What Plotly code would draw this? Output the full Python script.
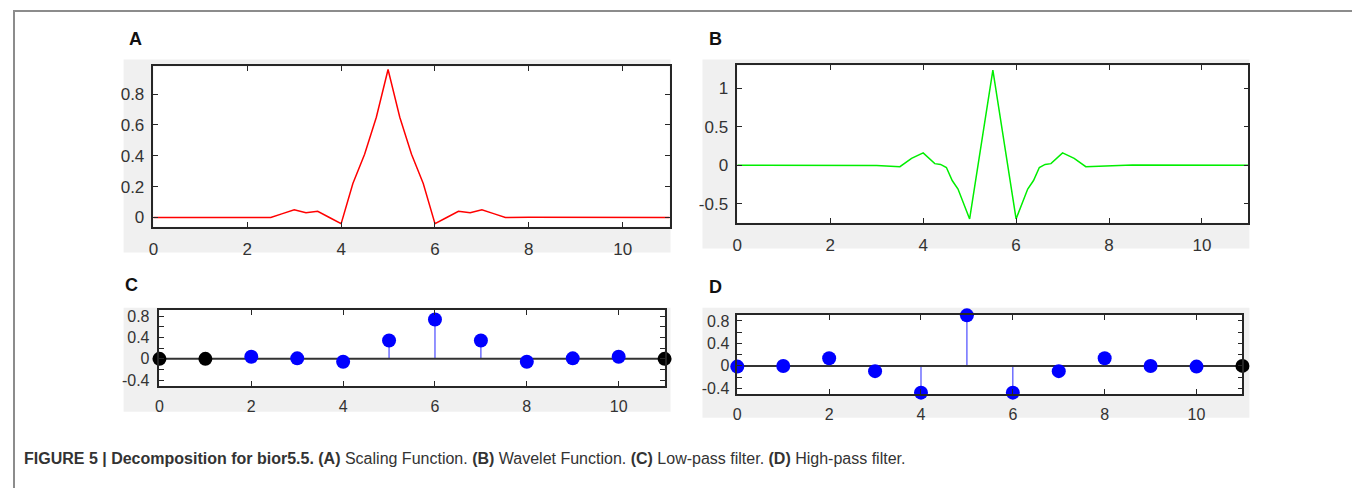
import plotly.graph_objects as go

# The page body has an 8px margin, so the figure is drawn 8px in from the window edge.
OFF = 8
W, H = 1360 - OFF, 488 - OFF

# ---------------- data ----------------
# (A) scaling function
a_x = [0, 2.0, 2.5, 2.75, 3.0, 3.25, 3.5, 3.75, 4.0, 4.25, 4.5, 4.75, 5.0,
       5.25, 5.5, 5.75, 6.0, 6.25, 6.5, 6.75, 7.0, 7.25, 7.5, 8.0, 11]
a_y = [0, 0.002, 0.0, 0.025, 0.05, 0.03, 0.04, 0.0, -0.04, 0.22, 0.41, 0.65, 0.96,
       0.65, 0.41, 0.22, -0.04, 0.0, 0.04, 0.03, 0.05, 0.025, 0.0, 0.002, 0]

# (B) wavelet function
b_x = [0, 2.5, 3.0, 3.5, 3.75, 4.0, 4.25, 4.375, 4.5, 4.625, 4.75, 5.0, 5.5,
       6.0, 6.25, 6.375, 6.5, 6.625, 6.75, 7.0, 7.25, 7.5, 8.0, 8.5, 11]
b_y = [0, 0.002, -0.005, -0.02, 0.09, 0.16, 0.02, 0.01, -0.03, -0.20, -0.31, -0.70, 1.24,
       -0.70, -0.31, -0.20, -0.03, 0.01, 0.02, 0.16, 0.09, -0.02, -0.005, 0.002, 0]

# (C) low-pass filter
c_n = list(range(12))
c_v = [0, 0, 0.04, 0.01, -0.055, 0.345, 0.74, 0.345, -0.055, 0.01, 0.04, 0]
c_black = [0, 1, 11]

# (D) high-pass filter
d_n = list(range(12))
d_v = [-0.013, -0.003, 0.137, -0.094, -0.477, 0.90, -0.477, -0.094, 0.137, -0.003, -0.013, 0]
d_black = [11]

x_ticks = [0, 2, 4, 6, 8, 10]
a_yticks = [0, 0.2, 0.4, 0.6, 0.8]
a_ylabels = ["0", "0.2", "0.4", "0.6", "0.8"]
b_yticks = [-0.5, 0, 0.5, 1]
b_ylabels = ["-0.5", "0", "0.5", "1"]
cd_yticks = [-0.4, -0.2, 0, 0.2, 0.4, 0.6, 0.8]
cd_ylabels = ["-0.4", "", "0", "", "0.4", "", "0.8"]

caption = ("<b>FIGURE 5 | Decomposition for bior5.5. (A)</b> Scaling Function. "
           "<b>(B)</b> Wavelet Function. <b>(C)</b> Low-pass filter. "
           "<b>(D)</b> High-pass filter.")

# ---------------- layout helpers ----------------
def px(x):
    return (x - OFF) / W

def py(y):
    return 1 - (y - OFF) / H

AX = "#262626"
TXT = "#333333"
FONT = "Liberation Sans, Arial, sans-serif"
TICKFONT = dict(family=FONT, size=17, color=TXT)
TICKFONT_S = dict(family=FONT, size=16, color=TXT)

panels = {
    "A": dict(plot=(149, 667, 65, 227), gray=(119, 668, 58, 253), label=(131, 37)),
    "B": dict(plot=(735, 1248, 64, 223), gray=(700, 1249, 58, 249), label=(713, 37)),
    "C": dict(plot=(155, 662, 311, 388), gray=(119, 668, 309, 414), label=(127, 286)),
    "D": dict(plot=(735, 1242, 316, 396), gray=(700, 1249, 309, 420), label=(713, 288)),
}

fig = go.Figure()

shapes = []
annotations = []
for k, p in panels.items():
    gx0, gx1, gy0, gy1 = p["gray"]
    shapes.append(dict(type="rect", xref="paper", yref="paper", layer="below",
                       x0=px(gx0), x1=px(gx1), y0=py(gy1), y1=py(gy0),
                       fillcolor="#f0f0f0", line=dict(width=0)))
    x0, x1, y0, y1 = p["plot"]
    shapes.append(dict(type="rect", xref="paper", yref="paper", layer="below",
                       x0=px(x0), x1=px(x1), y0=py(y1), y1=py(y0),
                       fillcolor="white", line=dict(width=0)))
    lx, ly = p["label"]
    annotations.append(dict(text="<b>%s</b>" % k, xref="paper", yref="paper",
                            x=px(lx), y=py(ly), showarrow=False,
                            xanchor="center", yanchor="middle",
                            font=dict(family=FONT, size=18, color="#111")))

# outer frame
FR = "#8c8c8c"
shapes += [
    dict(type="line", xref="paper", yref="paper", x0=px(8), x1=px(1356), y0=py(9), y1=py(9),
         line=dict(color=FR, width=2)),
    dict(type="line", xref="paper", yref="paper", x0=px(9), x1=px(9), y0=py(9), y1=py(495),
         line=dict(color=FR, width=2)),
    dict(type="line", xref="paper", yref="paper", x0=px(1356), x1=px(1356), y0=py(9), y1=py(495),
         line=dict(color=FR, width=2)),
]

annotations.append(dict(text=caption, xref="paper", yref="paper", x=px(17), y=py(461),
                        showarrow=False, xanchor="left", yanchor="middle",
                        font=dict(family=FONT, size=16, color="#333")))

# ---------------- traces ----------------
fig.add_trace(go.Scatter(x=a_x, y=a_y, mode="lines", line=dict(color="#ff0000", width=1.5),
                         xaxis="x", yaxis="y", showlegend=False, hoverinfo="skip"))
fig.add_trace(go.Scatter(x=b_x, y=b_y, mode="lines", line=dict(color="#00ee00", width=1.5),
                         xaxis="x2", yaxis="y2", showlegend=False, hoverinfo="skip"))


def stem(n, v, black, xa, ya):
    sx, sy = [], []
    for xi, yi in zip(n, v):
        sx += [xi, xi, None]
        sy += [0, yi, None]
    fig.add_trace(go.Scatter(x=sx, y=sy, mode="lines", line=dict(color="#4a4aff", width=1.2),
                             xaxis=xa, yaxis=ya, showlegend=False, hoverinfo="skip"))
    fig.add_trace(go.Scatter(x=[n[0], n[-1]], y=[0, 0], mode="lines",
                             line=dict(color="#333333", width=2),
                             xaxis=xa, yaxis=ya, showlegend=False, hoverinfo="skip"))
    cols = ["#000000" if xi in black else "#0000ff" for xi in n]
    fig.add_trace(go.Scatter(x=n, y=v, mode="markers", cliponaxis=False,
                             marker=dict(color=cols, size=14, line=dict(width=0)),
                             xaxis=xa, yaxis=ya, showlegend=False, hoverinfo="skip"))


stem(c_n, c_v, c_black, "x3", "y3")
stem(d_n, d_v, d_black, "x4", "y4")


def xax(p, font, stand):
    x0, x1, y0, y1 = p["plot"]
    return dict(domain=[px(x0), px(x1)], range=[0, 11], tickvals=x_ticks,
                ticks="inside", ticklen=5, tickwidth=1.2, tickcolor=AX,
                showline=True, linecolor=AX, linewidth=1.5, mirror="ticks",
                showgrid=False, zeroline=False, tickfont=font,
                ticklabelstandoff=stand, fixedrange=True)


def yax(p, rng, vals, labels, font, anchor, stand):
    x0, x1, y0, y1 = p["plot"]
    return dict(domain=[py(y1), py(y0)], range=rng, tickvals=vals, ticktext=labels,
                ticks="inside", ticklen=5, tickwidth=1.2, tickcolor=AX,
                showline=True, linecolor=AX, linewidth=1.5, mirror="ticks",
                showgrid=False, zeroline=False, tickfont=font, anchor=anchor,
                ticklabelstandoff=stand, fixedrange=True)


fig.update_layout(
    width=W, height=H, margin=dict(l=0, r=0, t=0, b=0),
    paper_bgcolor="white", plot_bgcolor="rgba(0,0,0,0)",
    xaxis=dict(xax(panels["A"], TICKFONT, 6), anchor="y"),
    yaxis=yax(panels["A"], [-0.06, 0.98], a_yticks, a_ylabels, TICKFONT, "x", 4),
    xaxis2=dict(xax(panels["B"], TICKFONT, 6), anchor="y2"),
    yaxis2=yax(panels["B"], [-0.75, 1.30], b_yticks, b_ylabels, TICKFONT, "x2", 4),
    xaxis3=dict(xax(panels["C"], TICKFONT_S, 5), anchor="y3"),
    yaxis3=yax(panels["C"], [-0.51, 0.92], cd_yticks, cd_ylabels, TICKFONT_S, "x3", 5),
    xaxis4=dict(xax(panels["D"], TICKFONT_S, 5), anchor="y4"),
    yaxis4=yax(panels["D"], [-0.5, 0.91], cd_yticks, cd_ylabels, TICKFONT_S, "x4", 3),
    shapes=shapes, annotations=annotations,
)

fig.write_html("out.html")
